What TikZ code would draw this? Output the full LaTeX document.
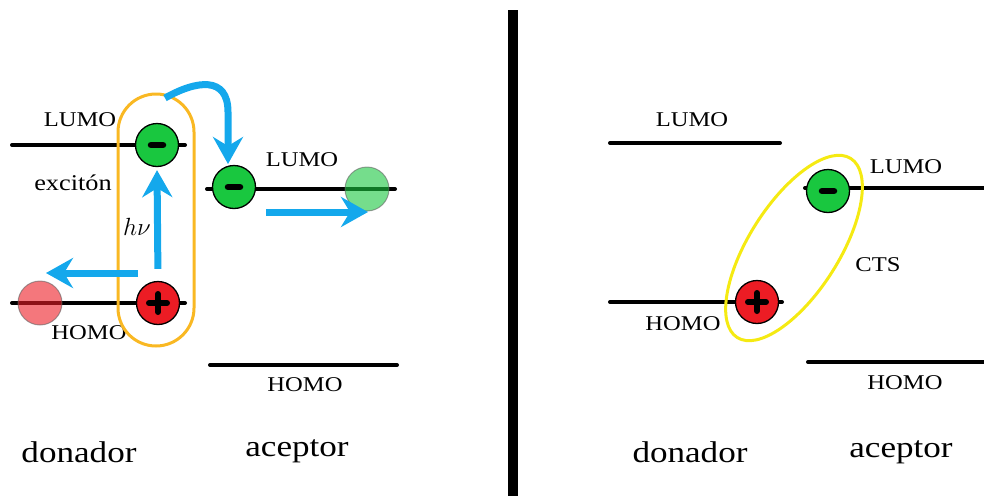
\documentclass[tikz,border=0pt]{standalone}
\usepackage{fontspec}
\setmainfont{Liberation Serif}[FakeStretch=1.17]
\usetikzlibrary{shapes.geometric,arrows.meta}

\definecolor{egreen}{HTML}{19C73F}
\definecolor{hred}{HTML}{EC1C24}
\definecolor{photon}{HTML}{14A8EC}
\definecolor{excorange}{HTML}{F9B823}
\definecolor{ctsyellow}{HTML}{F5EA12}

\tikzset{
  level/.style={line width=4pt, line cap=round},
  lbl/.style={font=\fontsize{21}{24}\selectfont, inner sep=0pt},
  side/.style={font=\fontsize{30}{34}\selectfont, inner sep=0pt},
  carrier/.style={circle, draw=black, line width=1.3pt, minimum size=43pt, inner sep=0pt},
  electron/.style={carrier, fill=egreen,
    path picture={\draw[line width=6.5pt, line cap=round]
      ([xshift=-6pt]path picture bounding box.center) -- ([xshift=6pt]path picture bounding box.center);}},
  hole/.style={carrier, fill=hred,
    path picture={\draw[line width=6pt, line cap=round]
      ([xshift=-9pt]path picture bounding box.center) -- ([xshift=9pt]path picture bounding box.center)
      ([yshift=-9pt]path picture bounding box.center) -- ([yshift=9pt]path picture bounding box.center);}},
  ghost/.style={circle, minimum size=44pt, inner sep=0pt, draw=black!60, line width=1pt,
    opacity=0.6},
  flow/.style={draw=photon, line width=7pt,
    -{Stealth[length=27pt, width=30pt, inset=9pt]}},
}

\begin{document}
\begin{tikzpicture}[x=1pt, y=-1pt]
\useasboundingbox (0,0) rectangle (984,496);

% ---------- left panel: exciton generation and dissociation ----------
\draw[level] (12,145) -- (185,145);
\draw[level] (12,303) -- (185,303);
\draw[level] (207,189) -- (395,189);
\draw[level] (210,365) -- (397,365);

\node[lbl] (dl1) at (80,120) {LUMO};
\node[lbl] (dh1) at (89,333) {HOMO};
\node[lbl] (al1) at (302,160) {LUMO};
\node[lbl] (ah1) at (305,385) {HOMO};
\node[lbl, font=\fontsize{22.5}{26}\selectfont] (exc) at (73,183) {excitón};
\node[lbl, font=\fontsize{23}{26}\selectfont] (hnu) at (137,227) {$h\nu$};

\node[ghost, fill=hred] (hfree) at (40,303) {};
\node[ghost, fill=egreen] (efree) at (367,189) {};

\node[electron] (e1) at (157,145) {};
\node[hole] (h1) at (158,303) {};
\node[electron] (e2) at (234,187) {};

\node[draw=excorange, line width=3pt, rounded corners=38pt,
      minimum width=76pt, minimum height=252pt] (excbox) at (156,220) {};

% photon absorption
\draw[flow, shorten <=12pt, shorten >=3pt] (h1.north) -- (e1.south);
% hole drifting in the donor
\coordinate (hs) at (138,273);
\coordinate (he) at (46,273);
\draw[flow] (hs) -- (he);
% electron transfer to the acceptor
\coordinate (ts) at (165,98);
\coordinate (te) at (228,164);
\draw[flow] (ts) .. controls (197,80) and (228,76) .. (228,112) -- (te);
% electron drifting in the acceptor
\coordinate (es) at (266,212);
\coordinate (ee) at (368,212);
\draw[flow] (es) -- (ee);

\node[side] (don1) at (79,452) {donador};
\node[side] (acc1) at (297,451) {aceptor};

% ---------- divider ----------
\draw[line width=10pt] (513,10) -- (513,496);

% ---------- right panel: charge transfer state ----------
\draw[level] (610,143) -- (780,143);
\draw[level] (610,302) -- (782,302);
\draw[level] (805,188) -- (984,188);
\draw[level] (808,362) -- (984,362);

\node[lbl] (dl2) at (692,120) {LUMO};
\node[lbl] (dh2) at (683,324) {HOMO};
\node[lbl] (al2) at (906,167) {LUMO};
\node[lbl] (ah2) at (905,383) {HOMO};
\node[lbl] (cts) at (878,265) {CTS};

\node[electron] (e3) at (828,191) {};
\node[hole] (h3) at (757,302) {};

\node[ellipse, draw=ctsyellow, line width=3pt, minimum width=212pt,
      minimum height=90pt, rotate=57.6] (ctsring) at (794,248) {};

\node[side] (don2) at (690,452) {donador};
\node[side] (acc2) at (901,452) {aceptor};
\end{tikzpicture}
\end{document}
